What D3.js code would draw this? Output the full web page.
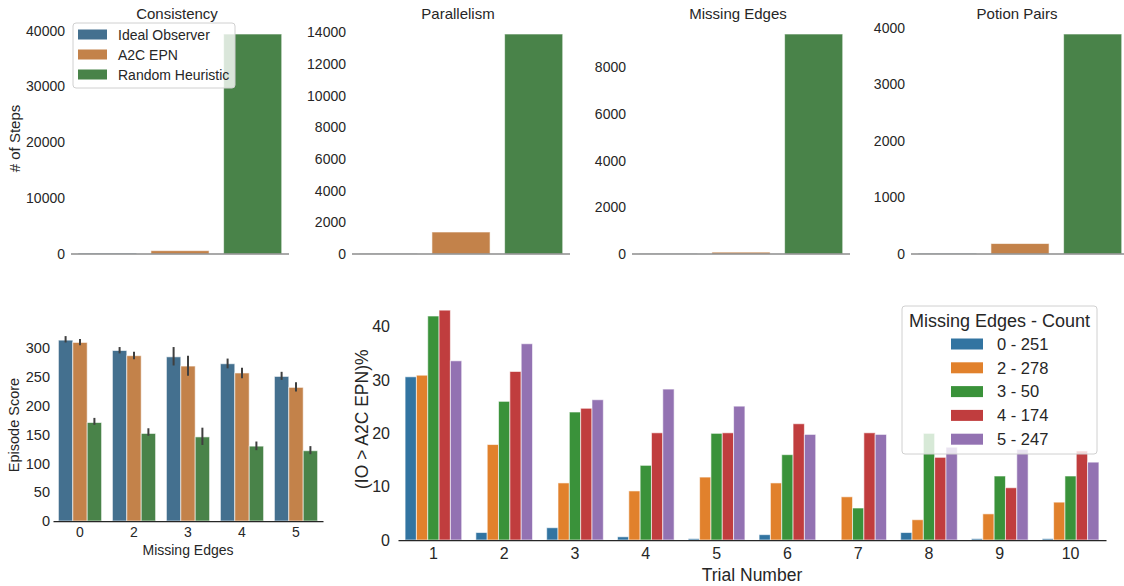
<!DOCTYPE html>
<html><head><meta charset="utf-8">
<script src="https://cdn.jsdelivr.net/npm/d3@7"></script>
<style>
html,body{margin:0;padding:0;background:#fff;}
svg{display:block;font-family:"Liberation Sans",Arial,sans-serif;}
</style></head>
<body>
<svg id="chart" width="1124" height="586"></svg>
<script>
// ---------- DATA ----------
const agents = ["Ideal Observer", "A2C EPN", "Random Heuristic"];
const panelTitles = ["Consistency", "Parallelism", "Missing Edges", "Potion Pairs"];
const stepsConsistency = [150, 600, 39400];
const stepsParallelism = [15, 1390, 13900];
const stepsMissingEdges = [10, 80, 9420];
const stepsPotionPairs = [10, 185, 3890];
const topTicks = [
  [0, 10000, 20000, 30000, 40000],
  [0, 2000, 4000, 6000, 8000, 10000, 12000, 14000],
  [0, 2000, 4000, 6000, 8000],
  [0, 1000, 2000, 3000, 4000]
];

const missingEdgeLevels = ["0", "2", "3", "4", "5"];
const scoreIO = [314, 296, 285, 273, 251];
const scoreIOci = [[310, 321], [291, 302], [270, 302], [265, 282], [245, 259]];
const scoreA2C = [310, 287, 269, 257, 232];
const scoreA2Cci = [[305, 316], [281, 294], [252, 287], [248, 266], [225, 241]];
const scoreRH = [171, 152, 146, 130, 122];
const scoreRHci = [[167, 179], [148, 161], [132, 162], [123, 138], [116, 130]];
const scoreTicks = [0, 50, 100, 150, 200, 250, 300];

const trials = ["1", "2", "3", "4", "5", "6", "7", "8", "9", "10"];
const seriesLabels = ["0 - 251", "2 - 278", "3 - 50", "4 - 174", "5 - 247"];
const pct0 = [30.6, 1.4, 2.3, 0.6, 0.25, 1.0, 0, 1.4, 0.25, 0.25];
const pct2 = [30.9, 17.9, 10.7, 9.2, 11.8, 10.7, 8.1, 3.8, 4.9, 7.1];
const pct3 = [42, 26, 24, 14, 20, 16, 6, 20, 12, 12];
const pct4 = [43.1, 31.6, 24.7, 20.1, 20.1, 21.8, 20.1, 15.5, 9.8, 16.7];
const pct5 = [33.6, 36.8, 26.3, 28.3, 25.1, 19.8, 19.8, 17.4, 17.0, 14.6];
const pctTicks = [0, 10, 20, 30, 40];

// ---------- STYLE ----------
const agentColors = ["#44708f", "#c3824a", "#498349"];
const seriesColors = ["#3274a1", "#e1812c", "#3a923a", "#c03d3e", "#9372b2"];
const textColor = "#262626";
const FONT = "Liberation Sans, Arial, sans-serif";
const svg = d3.select("#chart");

// ---------- TOP ROW ----------
const topData = [stepsConsistency, stepsParallelism, stepsMissingEdges, stepsPotionPairs];
const topX0 = [71, 352, 632, 911];
const topW = 218;
const topY0 = 254, topY1 = 23;

topData.forEach((vals, p) => {
  const g = svg.append("g");
  const x = d3.scaleBand().domain(agents).range([topX0[p], topX0[p] + topW]).paddingInner(0.2).paddingOuter(0.1);
  const maxV = d3.max(vals) * 1.05;
  const y = d3.scaleLinear().domain([0, maxV]).range([topY0, topY1]);
  g.selectAll("rect").data(vals).join("rect")
    .attr("x", (d, i) => x(agents[i]))
    .attr("width", x.bandwidth())
    .attr("y", d => y(d))
    .attr("height", d => y(0) - y(d))
    .attr("fill", (d, i) => agentColors[i])
    .attr("stroke", "#fff").attr("stroke-opacity", 0.6).attr("stroke-width", 1);
  const ax = g.append("g").attr("transform", `translate(${topX0[p]},0)`)
    .call(d3.axisLeft(y).tickValues(topTicks[p]).tickSize(0).tickPadding(6).tickFormat(d3.format("d")));
  ax.select(".domain").remove();
  ax.selectAll("text").attr("font-size", 14).attr("fill", textColor).attr("font-family", FONT);
  g.append("line").attr("x1", topX0[p]).attr("x2", topX0[p] + topW)
    .attr("y1", topY0).attr("y2", topY0).attr("stroke", "#8c8c8c").attr("stroke-width", 1.5);
  g.append("text").attr("x", topX0[p] + topW / 2 - 3).attr("y", 19).attr("text-anchor", "middle")
    .attr("font-size", 15).attr("fill", textColor).text(panelTitles[p]);
});
svg.append("text").attr("transform", `translate(20,${(topY0 + topY1) / 2}) rotate(-90)`)
  .attr("text-anchor", "middle").attr("font-size", 15).attr("fill", textColor).text("# of Steps");

// top legend
const lg = svg.append("g");
lg.append("rect").attr("x", 73).attr("y", 23).attr("width", 162).attr("height", 65).attr("rx", 3)
  .attr("fill", "#fff").attr("fill-opacity", 0.8).attr("stroke", "#d0d0d0").attr("stroke-width", 1);
agents.forEach((a, i) => {
  lg.append("rect").attr("x", 78).attr("y", 29.5 + i * 20).attr("width", 29).attr("height", 10)
    .attr("fill", agentColors[i]);
  lg.append("text").attr("x", 118).attr("y", 39.5 + i * 20).attr("font-size", 14).attr("fill", textColor).text(a);
});

// ---------- BOTTOM LEFT ----------
(function () {
  const L = 53, R = 323, B = 521;
  const x = d3.scaleBand().domain(missingEdgeLevels).range([L, R]).paddingInner(0.2).paddingOuter(0.1);
  const xs = d3.scaleBand().domain([0, 1, 2]).range([0, x.bandwidth()]);
  const y = d3.scaleLinear().domain([0, 337]).range([B, B - 337 * 0.576]);
  const g = svg.append("g");
  const series = [[scoreIO, scoreIOci], [scoreA2C, scoreA2Cci], [scoreRH, scoreRHci]];
  series.forEach(([vals, ci], s) => {
    vals.forEach((v, i) => {
      const bx = x(missingEdgeLevels[i]) + xs(s);
      g.append("rect").attr("x", bx).attr("width", xs.bandwidth()).attr("y", y(v)).attr("height", y(0) - y(v))
        .attr("fill", agentColors[s]).attr("stroke", "#fff").attr("stroke-opacity", 0.6).attr("stroke-width", 1);
      g.append("line").attr("x1", bx + xs.bandwidth() / 2).attr("x2", bx + xs.bandwidth() / 2)
        .attr("y1", y(ci[i][0])).attr("y2", y(ci[i][1])).attr("stroke", "#3f3f3f").attr("stroke-width", 2);
    });
  });
  const ay = g.append("g").attr("transform", `translate(${L},0)`)
    .call(d3.axisLeft(y).tickValues(scoreTicks).tickSize(0).tickPadding(3));
  ay.select(".domain").remove();
  ay.selectAll("text").attr("font-size", 14.5).attr("fill", textColor).attr("font-family", FONT);
  const axx = g.append("g").attr("transform", `translate(0,${B})`)
    .call(d3.axisBottom(x).tickSize(0).tickPadding(6));
  axx.select(".domain").attr("stroke", textColor).attr("stroke-width", 1.25);
  axx.selectAll("text").attr("font-size", 14).attr("fill", textColor).attr("font-family", FONT);
  g.append("text").attr("x", (L + R) / 2).attr("y", 555).attr("text-anchor", "middle")
    .attr("font-size", 14).attr("fill", textColor).text("Missing Edges");
  g.append("text").attr("transform", `translate(19,425) rotate(-90)`).attr("text-anchor", "middle")
    .attr("font-size", 14.5).attr("fill", textColor).text("Episode Score");
})();

// ---------- BOTTOM RIGHT ----------
(function () {
  const L = 398, R = 1106, B = 540;
  const x = d3.scaleBand().domain(trials).range([L, R]).paddingInner(0.2).paddingOuter(0.1);
  const xs = d3.scaleBand().domain(d3.range(5)).range([0, x.bandwidth()]);
  const y = d3.scaleLinear().domain([0, 45.3]).range([B, B - 45.3 * 5.333]);
  const g = svg.append("g");
  const all = [pct0, pct2, pct3, pct4, pct5];
  all.forEach((vals, s) => {
    g.append("g").selectAll("rect").data(vals).join("rect")
      .attr("x", (d, i) => x(trials[i]) + xs(s))
      .attr("width", xs.bandwidth())
      .attr("y", d => y(d))
      .attr("height", d => y(0) - y(d))
      .attr("fill", seriesColors[s])
      .attr("stroke", "#fff").attr("stroke-opacity", 0.6).attr("stroke-width", 1);
  });
  const ay = g.append("g").attr("transform", `translate(${L},0)`)
    .call(d3.axisLeft(y).tickValues(pctTicks).tickSize(0).tickPadding(8));
  ay.select(".domain").remove();
  ay.selectAll("text").attr("font-size", 16).attr("fill", textColor).attr("font-family", FONT);
  const axx = g.append("g").attr("transform", `translate(0,${B})`)
    .call(d3.axisBottom(x).tickSize(0).tickPadding(8));
  axx.select(".domain").attr("stroke", textColor).attr("stroke-width", 1.25);
  axx.selectAll("text").attr("font-size", 16).attr("fill", textColor).attr("font-family", FONT);
  g.append("text").attr("x", (L + R) / 2).attr("y", 581).attr("text-anchor", "middle")
    .attr("font-size", 17.5).attr("fill", textColor).text("Trial Number");
  g.append("text").attr("transform", `translate(368,${(B + B - 45.3 * 5.333) / 2}) rotate(-90)`).attr("text-anchor", "middle")
    .attr("font-size", 17.5).attr("fill", textColor).text("(IO > A2C EPN)%");

  // legend
  const lg2 = svg.append("g");
  lg2.append("rect").attr("x", 902).attr("y", 306).attr("width", 195).attr("height", 148).attr("rx", 3)
    .attr("fill", "#fff").attr("fill-opacity", 0.8).attr("stroke", "#d0d0d0").attr("stroke-width", 1);
  lg2.append("text").attr("x", 999.5).attr("y", 326.5).attr("text-anchor", "middle")
    .attr("font-size", 18).attr("fill", textColor).text("Missing Edges - Count");
  seriesLabels.forEach((lab, i) => {
    const cy = 344 + i * 23.8;
    lg2.append("rect").attr("x", 951).attr("y", cy - 5.5).attr("width", 32).attr("height", 11).attr("fill", seriesColors[i]);
    lg2.append("text").attr("x", 997).attr("y", cy + 5.8).attr("font-size", 16.5).attr("fill", textColor).text(lab);
  });
})();
</script>
</body></html>
